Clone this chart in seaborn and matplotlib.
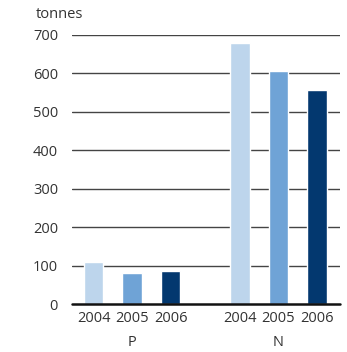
import matplotlib
matplotlib.use("Agg")
import matplotlib.pyplot as plt
import seaborn as sns
import pandas as pd

groups = ["P", "N"]
years = ["2004", "2005", "2006"]
p_values = [110, 82, 85]
n_values = [678, 606, 557]
colors = ["#bdd5ec", "#6fa3d6", "#03386f"]

sns.set_theme(style="white")
plt.rcParams['font.family'] = ['Open Sans', 'DejaVu Sans']

group_gap = 3.8
rows = []
for gi, (g, vals) in enumerate(zip(groups, [p_values, n_values])):
    for yi, (yr, v) in enumerate(zip(years, vals)):
        rows.append({"pos": gi * group_gap + yi, "year": yr, "group": g, "value": v})
df = pd.DataFrame(rows)

fig = plt.figure(figsize=(3.47, 3.52), dpi=100)
ax = fig.add_axes([0.2075, 0.136, 0.7725, 0.765])
sns.barplot(data=df, x="pos", y="value", hue="year", palette=colors,
            native_scale=True, dodge=False, width=0.5, legend=False,
            saturation=1, ax=ax, zorder=3)

ax.set_ylim(0, 700)
ax.set_xlim(-0.56, 6.4)
ax.set_yticks(range(0, 701, 100))
for yv in range(100, 701, 100):
    ax.axhline(yv, color="#444444", lw=1.0, zorder=1)
ax.axhline(0, color="#111111", lw=1.8, zorder=4, clip_on=False)
for s in ax.spines.values():
    s.set_visible(False)
ax.set_xticks(df["pos"])
ax.set_xticklabels(df["year"])
ax.tick_params(axis="both", length=0, labelsize=10.5, colors="#333333")
ax.tick_params(axis="y", pad=10)
ax.tick_params(axis="x", pad=5)
ax.set_xlabel("")
ax.set_ylabel("")
for gi, g in enumerate(groups):
    ax.text(gi * group_gap + 1, -0.115, g, transform=ax.get_xaxis_transform(),
            ha="center", va="top", fontsize=10.5, color="#333333")
fig.text(36 / 347, 1 - 15 / 352, "tonnes", ha="left", va="center", fontsize=10.5, color="#333333")

fig.savefig("out.png", dpi=100)
